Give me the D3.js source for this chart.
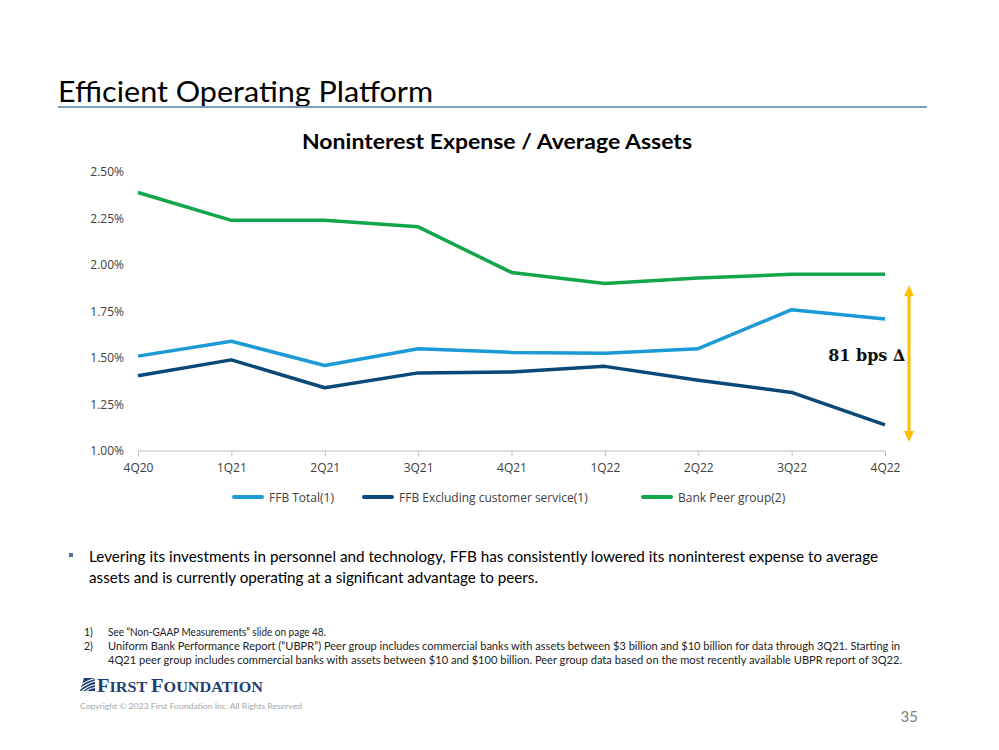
<!DOCTYPE html>
<html><head><meta charset="utf-8">
<script src="https://cdn.jsdelivr.net/npm/d3@7"></script>
<style>body{margin:0;background:#fff}svg{display:block}</style>
</head><body>
<script>
const categories = ["4Q20","1Q21","2Q21","3Q21","4Q21","1Q22","2Q22","3Q22","4Q22"];
const ffbTotal = [1.51,1.59,1.46,1.55,1.53,1.525,1.55,1.76,1.71];
const ffbExcl  = [1.405,1.49,1.34,1.42,1.425,1.455,1.38,1.315,1.14];
const peer     = [2.39,2.24,2.24,2.205,1.96,1.90,1.93,1.95,1.95];
const yTicks   = [1.00,1.25,1.50,1.75,2.00,2.25,2.50];
const seriesNames = ["FFB Total(1)","FFB Excluding customer service(1)","Bank Peer group(2)"];
const seriesColors = ["#1B9AD6","#0A4878","#11A64A"];

const W=999,H=750;
const svg=d3.select("body").append("svg").attr("width",W).attr("height",H);
const font="Lato, 'Open Sans', sans-serif";
const font2="'Open Sans', sans-serif";

// Title
svg.append("text").attr("x",58).attr("y",102).attr("font-family",font).attr("font-size",29)
  .attr("fill","#000").attr("textLength",375).attr("lengthAdjust","spacingAndGlyphs").text("Efficient Operating Platform");
svg.append("line").attr("x1",58).attr("x2",927).attr("y1",107).attr("y2",107)
  .attr("stroke","#7F9CB8").attr("stroke-width",2);

// Chart title
svg.append("text").attr("x",302).attr("y",149).attr("font-family",font)
  .attr("font-weight","bold").attr("font-size",21).attr("fill","#000")
  .attr("textLength",390).attr("lengthAdjust","spacingAndGlyphs").text("Noninterest Expense / Average Assets");

const x=d3.scalePoint().domain(categories).range([138,885]);
const y=d3.scaleLinear().domain([1.0,2.5]).range([451,172]);

// y axis labels (no line)
const yAx=svg.append("g").attr("transform","translate(138,0)")
  .call(d3.axisLeft(y).tickValues(yTicks).tickFormat(d=>d3.format(".2f")(d)+"%").tickSize(0).tickPadding(14));
yAx.select(".domain").remove();
yAx.selectAll("text").attr("font-family",font2).attr("font-size",12).attr("fill","#404040");

// x axis
const xAx=svg.append("g").attr("transform","translate(0,451)")
  .call(d3.axisBottom(x).tickSize(5).tickSizeOuter(0).tickPadding(7));
xAx.select(".domain").attr("stroke","#BFBFBF").attr("d","M138,0H885");
xAx.selectAll(".tick line").attr("stroke","#BFBFBF");
xAx.selectAll("text").attr("font-family",font2).attr("font-size",12).attr("fill","#404040");

const line=d3.line().x((d,i)=>x(categories[i])).y(d=>y(d));
[ffbTotal,ffbExcl,peer].forEach((s,i)=>{
  svg.append("path").datum(s).attr("d",line).attr("fill","none")
    .attr("stroke",seriesColors[i]).attr("stroke-width",3.5).attr("stroke-linejoin","round");
});

// Legend
const legX=[234,364,643];
seriesNames.forEach((n,i)=>{
  svg.append("line").attr("x1",legX[i]).attr("x2",legX[i]+28).attr("y1",497).attr("y2",497)
    .attr("stroke",seriesColors[i]).attr("stroke-width",4).attr("stroke-linecap","round");
  svg.append("text").attr("x",legX[i]+35).attr("y",502).attr("font-family",font2).attr("font-size",12)
    .attr("fill","#404040").text(n);
});

// Arrow annotation
const ax=909, yTop=y(peer[8]), yBot=y(ffbExcl[8]);
svg.append("line").attr("x1",ax).attr("x2",ax).attr("y1",yTop+18).attr("y2",yBot+10)
  .attr("stroke","#FFBF00").attr("stroke-width",3);
svg.append("path").attr("d",`M${ax},${yTop+11}L${ax-5},${yTop+22}L${ax+5},${yTop+22}Z`).attr("fill","#FFBF00");
svg.append("path").attr("d",`M${ax},${yBot+17}L${ax-5},${yBot+6}L${ax+5},${yBot+6}Z`).attr("fill","#FFBF00");
svg.append("text").attr("x",905).attr("y",361).attr("text-anchor","end")
  .attr("font-family","'DejaVu Serif', 'Liberation Serif', serif").attr("font-weight","bold")
  .attr("font-size",16).attr("fill","#111").text("81 bps \u2206");

// Bullet
svg.append("rect").attr("x",69).attr("y",553).attr("width",4).attr("height",4).attr("fill","#4F6F9F");
svg.append("text").attr("x",89).attr("y",562).attr("font-family",font).attr("font-size",15).attr("fill","#000")
  .attr("textLength",789).attr("lengthAdjust","spacingAndGlyphs")
  .text("Levering its investments in personnel and technology, FFB has consistently lowered its noninterest expense to average");
svg.append("text").attr("x",89).attr("y",583).attr("font-family",font).attr("font-size",15).attr("fill","#000")
  .attr("textLength",449).attr("lengthAdjust","spacingAndGlyphs")
  .text("assets and is currently operating at a significant advantage to peers.");

// Footnotes
const fn=[["1)","See \u201CNon-GAAP Measurements\u201D slide on page 48.",218],
 ["2)","Uniform Bank Performance Report (\u201CUBPR\u201D) Peer group includes commercial banks with assets between $3 billion and $10 billion for data through 3Q21. Starting in",792],
 ["","4Q21 peer group includes commercial banks with assets between $10 and $100 billion. Peer group data based on the most recently available UBPR report of 3Q22.",794]];
fn.forEach((f,i)=>{
  const yy=636+i*14;
  svg.append("text").attr("x",84).attr("y",yy).attr("font-family",font).attr("font-size",10.5).attr("fill","#222").text(f[0]);
  svg.append("text").attr("x",108).attr("y",yy).attr("font-family",font).attr("font-size",10.5).attr("fill","#222")
    .attr("textLength",f[2]).attr("lengthAdjust","spacingAndGlyphs").text(f[1]);
});

// Logo
const navy="#1F3F73";
svg.append("path").attr("fill",navy).attr("d","M84,678 L95,678 L95,691 L80,691 Z");
svg.append("path").attr("fill","none").attr("stroke","#fff").attr("stroke-width",1.2)
  .attr("d","M80,689 Q86,684 95,681 M80,686 Q85,681 95,678.5 M82,691 Q88,686 95,684.5 M86,691 Q90,688 95,687.5");
const lt=svg.append("text").attr("x",97).attr("y",692).attr("font-family","'Liberation Serif', serif")
  .attr("font-weight","bold").attr("fill",navy).attr("textLength",166).attr("lengthAdjust","spacingAndGlyphs");
lt.append("tspan").attr("font-size",19).text("F");
lt.append("tspan").attr("font-size",15).text("IRST ");
lt.append("tspan").attr("font-size",19).text("F");
lt.append("tspan").attr("font-size",15).text("OUNDATION");
svg.append("text").attr("x",80).attr("y",709).attr("font-family",font).attr("font-size",8).attr("fill","#A6A6A6")
  .attr("textLength",222).attr("lengthAdjust","spacingAndGlyphs")
  .text("Copyright \u00A9 2023 First Foundation Inc. All Rights Reserved");
svg.append("text").attr("x",918).attr("y",722).attr("text-anchor","end").attr("font-family",font).attr("font-size",15)
  .attr("fill","#7F7F7F").text("35");
</script>
</body></html>
